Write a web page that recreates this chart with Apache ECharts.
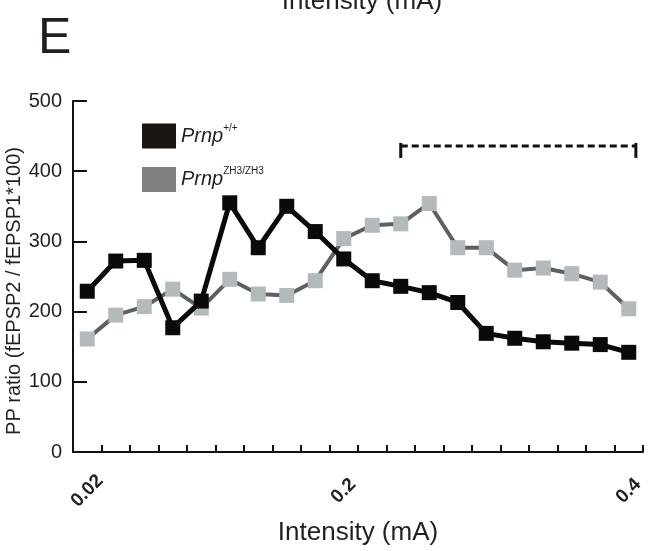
<!DOCTYPE html>
<html>
<head>
<meta charset="utf-8">
<style>
  html, body { margin: 0; padding: 0; background: #ffffff; }
  #chart { width: 653px; height: 551px; }
</style>
<script src="https://cdn.jsdelivr.net/npm/echarts@6/dist/echarts.min.js"></script>
</head>
<body>
<div id="chart"></div>
<script>
// Stimulation intensities (mA), 0.02 to 0.40 in 0.02 steps
const intensities = ['0.02', '0.04', '0.06', '0.08', '0.1', '0.12', '0.14', '0.16', '0.18', '0.2',
                     '0.22', '0.24', '0.26', '0.28', '0.3', '0.32', '0.34', '0.36', '0.38', '0.4'];
// Only these intensities carry a tick label
const labelledIntensities = ['0.02', '0.2', '0.4'];

// Paired-pulse ratio, wild type
const ppWildType = [229, 272, 273, 177, 215, 355, 291, 350, 314, 275,
                    244, 236, 227, 213, 169, 162, 157, 155, 153, 142];
// Paired-pulse ratio, ZH3 knock-in
const ppZH3 = [161, 195, 207, 232, 205, 246, 225, 223, 244, 304,
               323, 325, 354, 291, 291, 259, 262, 254, 242, 204];

// Series names and their rich-text legend labels
const seriesNames = ['Prnp+/+', 'PrnpZH3/ZH3'];
const superscripts = ['+/+', 'ZH3/ZH3'];

// Range marked by the dashed bracket
const bracketFrom = '0.24';
const bracketTo = '0.4';
const bracketLevel = 436;

const yTitle = 'PP ratio (fEPSP2 / fEPSP1*100)';
const xTitle = 'Intensity (mA)';

const ink = '#231f20';
const font = '"Liberation Sans", Arial, sans-serif';

const chart = echarts.init(document.getElementById('chart'), null, { renderer: 'canvas' });

const option = {
  animation: false,
  backgroundColor: '#ffffff',
  grid: { left: 73, right: 10, top: 101, bottom: 99, containLabel: false, outerBoundsMode: 'none' },
  legend: {
    orient: 'vertical',
    left: 137,
    top: 118,
    itemWidth: 34,
    itemHeight: 25,
    itemGap: 18,
    icon: 'rect',
    selectedMode: false,
    data: [
      { name: seriesNames[0], itemStyle: { color: '#1a1413' } },
      { name: seriesNames[1], itemStyle: { color: '#7f7f7f' } }
    ],
    formatter: function (name) {
      const k = seriesNames.indexOf(name);
      return '{i|Prnp}{s|' + superscripts[k] + '}';
    },
    textStyle: {
      rich: {
        i: { fontFamily: font, fontStyle: 'italic', fontSize: 20, color: ink, lineHeight: 26, verticalAlign: 'middle' },
        s: { fontFamily: font, fontSize: 10, color: ink, lineHeight: 26, verticalAlign: 'top' }
      }
    }
  },
  xAxis: {
    type: 'category',
    data: intensities,
    boundaryGap: true,
    name: xTitle,
    nameLocation: 'middle',
    nameGap: 68,
    nameTextStyle: { fontFamily: font, fontSize: 26, color: ink },
    axisLine: { show: true, lineStyle: { color: '#111', width: 2 } },
    axisTick: { show: true, inside: true, length: 7, interval: 0, lineStyle: { color: '#111', width: 2 } },
    axisLabel: {
      interval: function (idx, value) { return labelledIntensities.indexOf(value) >= 0; },
      rotate: 45,
      align: 'center',
      verticalAlign: 'middle',
      margin: 39,
      fontFamily: font,
      fontWeight: 'bold',
      fontSize: 19,
      color: ink
    },
    splitLine: { show: false }
  },
  yAxis: {
    type: 'value',
    min: 0,
    max: 500,
    interval: 100,
    axisLine: { show: true, lineStyle: { color: '#111', width: 2 } },
    axisTick: { show: true, inside: true, length: 14, lineStyle: { color: '#111', width: 2 } },
    axisLabel: { margin: 11, fontFamily: font, fontSize: 20, color: ink },
    splitLine: { show: false }
  },
  series: [
    {
      name: seriesNames[1],
      type: 'line',
      data: ppZH3,
      symbol: 'rect',
      symbolSize: 15,
      z: 2,
      lineStyle: { color: '#5f5f5f', width: 4 },
      itemStyle: { color: '#b4b9bc', borderWidth: 0 }
    },
    {
      name: seriesNames[0],
      type: 'line',
      data: ppWildType,
      symbol: 'rect',
      symbolSize: 15,
      z: 3,
      lineStyle: { color: '#0a0a0a', width: 5 },
      itemStyle: { color: '#0a0a0a', borderWidth: 0 }
    }
  ]
};

chart.setOption(option);

// Dashed bracket spanning the marked intensity range, the y-axis title,
// the panel letter and the clipped axis title of the panel above.
const leftPt = chart.convertToPixel({ gridIndex: 0 }, [bracketFrom, bracketLevel]);
const rightPt = chart.convertToPixel({ gridIndex: 0 }, [bracketTo, bracketLevel]);
const band = (rightPt[0] - leftPt[0]) / (intensities.indexOf(bracketTo) - intensities.indexOf(bracketFrom));
const x0 = leftPt[0];
const x1 = rightPt[0] + band * 0.25;
const yb = leftPt[1];

chart.setOption({
  graphic: [
    {
      type: 'line',
      shape: { x1: x0, y1: yb, x2: x1, y2: yb },
      style: { stroke: '#111', lineWidth: 3, lineDash: [7, 4] },
      z: 10
    },
    {
      type: 'line',
      shape: { x1: x0, y1: yb - 3, x2: x0, y2: yb + 12 },
      style: { stroke: '#111', lineWidth: 3 },
      z: 10
    },
    {
      type: 'line',
      shape: { x1: x1, y1: yb - 3, x2: x1, y2: yb + 12 },
      style: { stroke: '#111', lineWidth: 3 },
      z: 10
    },
    {
      type: 'text',
      x: 14,
      y: 291,
      rotation: Math.PI / 2,
      style: { text: yTitle, fontFamily: font, fontSize: 20, fill: ink, align: 'center', verticalAlign: 'middle' }
    },
    {
      type: 'text',
      left: 38,
      top: 14,
      style: { text: 'E', fontFamily: font, fontSize: 50, fill: ink }
    },
    {
      type: 'text',
      x: 362,
      y: 15,
      style: { text: xTitle, fontFamily: font, fontSize: 26, fill: ink, align: 'center', verticalAlign: 'bottom' }
    }
  ]
});
</script>
</body>
</html>
